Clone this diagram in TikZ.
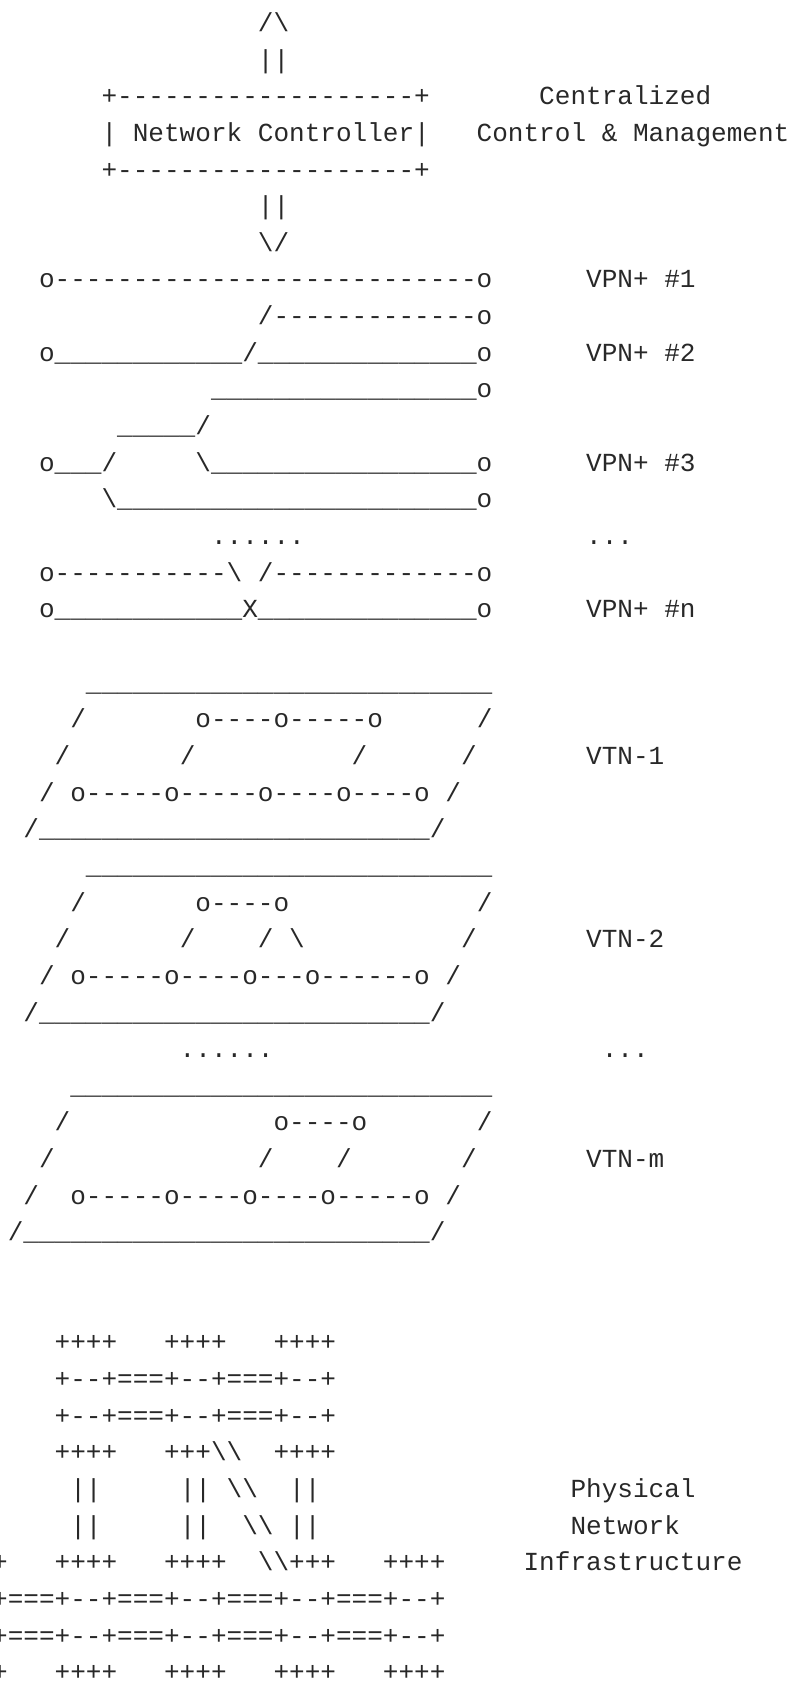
\documentclass[tikz,border=0pt]{standalone}
\usepackage{fontspec}
\setmonofont{Liberation Mono}
\definecolor{ink}{RGB}{40,40,40}
\ExplSyntaxOn
\cs_new:Npn \rpt #1#2 { \prg_replicate:nn {#1} {#2} }
\ExplSyntaxOff
\newcommand\bs{\textbackslash}
\newcommand\cw{15.63}
\newcommand\rowpitch{36.65}
\newcommand\firstbase{31.45}
% \asc{name}{column}{row}{text}: one run of monospaced text on the character grid
\newcommand\asc[4]{\node[txt] (#1) at ({(#2-0.5)*\cw},{-\firstbase-(#3-1)*\rowpitch}) {#4};}
\tikzset{txt/.style={anchor=base west, inner sep=0pt, outer sep=0pt, text=ink,
  font=\ttfamily\frenchspacing\fontsize{26.05pt}{36.65pt}\selectfont}}
\begin{document}
\begin{tikzpicture}[x=1pt,y=1pt]
\useasboundingbox (0,0) rectangle (791,-1685);
\clip (0,0) rectangle (791,-1685);
% controller
\asc{up}{17}{1}{/\bs}
\asc{upbar}{17}{2}{||}
\asc{ctltop}{7}{3}{+\rpt{19}{-}+}
\asc{ctlmid}{7}{4}{|~Network~Controller|}
\asc{ctlbot}{7}{5}{+\rpt{19}{-}+}
\asc{downbar}{17}{6}{||}
\asc{down}{17}{7}{\bs/}
\asc{lblcentral}{35}{3}{Centralized}
\asc{lblcontrol}{31}{4}{Control~\&~Management}
% VPN+ services
\asc{vpnA}{3}{8}{o\rpt{27}{-}o}
\asc{vpnBa}{17}{9}{/\rpt{13}{-}o}
\asc{vpnBb}{3}{10}{o\rpt{12}{\_}/\rpt{14}{\_}o}
\asc{vpnCa}{14}{11}{\rpt{17}{\_}o}
\asc{vpnCb}{8}{12}{\rpt{5}{\_}/}
\asc{vpnCc}{3}{13}{o\rpt{3}{\_}/\rpt{5}{~}\bs\rpt{17}{\_}o}
\asc{vpnCd}{7}{14}{\bs\rpt{23}{\_}o}
\asc{vpndots}{14}{15}{......}
\asc{vpnNa}{3}{16}{o\rpt{11}{-}\bs~/\rpt{13}{-}o}
\asc{vpnNb}{3}{17}{o\rpt{12}{\_}X\rpt{14}{\_}o}
\asc{lblvpnA}{38}{8}{VPN+~\#1}
\asc{lblvpnB}{38}{10}{VPN+~\#2}
\asc{lblvpnC}{38}{13}{VPN+~\#3}
\asc{lblvpndots}{38}{15}{...}
\asc{lblvpnN}{38}{17}{VPN+~\#n}
% VTN-1
\asc{vtnAa}{6}{19}{\rpt{26}{\_}}
\asc{vtnAb}{5}{20}{/\rpt{7}{~}o----o-----o\rpt{6}{~}/}
\asc{vtnAc}{4}{21}{/\rpt{7}{~}/\rpt{10}{~}/\rpt{6}{~}/}
\asc{vtnAd}{3}{22}{/~o-----o-----o----o----o~/}
\asc{vtnAe}{2}{23}{/\rpt{25}{\_}/}
\asc{lblvtnA}{38}{21}{VTN-1}
% VTN-2
\asc{vtnBa}{6}{24}{\rpt{26}{\_}}
\asc{vtnBb}{5}{25}{/\rpt{7}{~}o----o\rpt{12}{~}/}
\asc{vtnBc}{4}{26}{/\rpt{7}{~}/\rpt{4}{~}/~\bs\rpt{10}{~}/}
\asc{vtnBd}{3}{27}{/~o-----o----o---o------o~/}
\asc{vtnBe}{2}{28}{/\rpt{25}{\_}/}
\asc{lblvtnB}{38}{26}{VTN-2}
\asc{vtndots}{12}{29}{......}
\asc{lblvtndots}{39}{29}{...}
% VTN-m
\asc{vtnMa}{5}{30}{\rpt{27}{\_}}
\asc{vtnMb}{4}{31}{/\rpt{13}{~}o----o\rpt{7}{~}/}
\asc{vtnMc}{3}{32}{/\rpt{13}{~}/\rpt{4}{~}/\rpt{7}{~}/}
\asc{vtnMd}{2}{33}{/~~o-----o----o----o-----o~/}
\asc{vtnMe}{1}{34}{/\rpt{26}{\_}/}
\asc{lblvtnM}{38}{32}{VTN-m}
% physical network
\asc{phyA}{4}{37}{++++~~~++++~~~++++}
\asc{phyB}{4}{38}{+--+===+--+===+--+}
\asc{phyC}{4}{39}{+--+===+--+===+--+}
\asc{phyD}{4}{40}{++++~~~+++\bs\bs~~++++}
\asc{phyE}{5}{41}{||~~~~~||~\bs\bs~~||}
\asc{phyF}{5}{42}{||~~~~~||~~\bs\bs~||}
\asc{phyG}{0}{43}{+~~~++++~~~++++~~\bs\bs+++~~~++++}
\asc{phyH}{0}{44}{+===+--+===+--+===+--+===+--+}
\asc{phyI}{0}{45}{+===+--+===+--+===+--+===+--+}
\asc{phyJ}{0}{46}{+~~~++++~~~++++~~~++++~~~++++}
\asc{lblphyA}{37}{41}{Physical}
\asc{lblphyB}{37}{42}{Network}
\asc{lblphyC}{34}{43}{Infrastructure}
\end{tikzpicture}
\end{document}
